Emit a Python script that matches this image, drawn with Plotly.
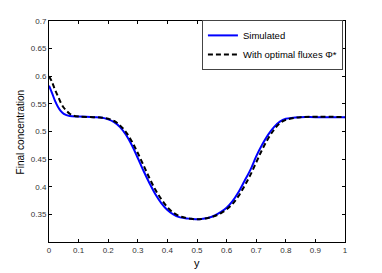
import plotly.graph_objects as go

x_sim = [0, 0.01, 0.02, 0.03, 0.04, 0.05, 0.07, 0.1, 0.15, 0.18, 0.2, 0.22, 0.24, 0.26, 0.28, 0.30,
         0.32, 0.34, 0.36, 0.38, 0.40, 0.42, 0.44, 0.46, 0.48, 0.5, 0.52, 0.54, 0.56, 0.58, 0.60,
         0.62, 0.64, 0.66, 0.68, 0.70, 0.72, 0.74, 0.76, 0.78, 0.80, 0.85, 0.9, 1.0]
simulated = [0.583, 0.570, 0.556, 0.545, 0.537, 0.532, 0.528, 0.527, 0.526, 0.525, 0.522, 0.517,
             0.508, 0.494, 0.475, 0.452, 0.428, 0.406, 0.386, 0.370, 0.358, 0.350, 0.345, 0.343,
             0.342, 0.341, 0.342, 0.344, 0.348, 0.354, 0.362, 0.374, 0.390, 0.410, 0.430, 0.455,
             0.476, 0.494, 0.508, 0.518, 0.523, 0.526, 0.526, 0.526]

x_opt = [0, 0.01, 0.02, 0.03, 0.04, 0.05, 0.06, 0.07, 0.08, 0.1, 0.15, 0.18, 0.2, 0.22, 0.24, 0.26,
         0.28, 0.30, 0.32, 0.34, 0.36, 0.38, 0.40, 0.42, 0.44, 0.46, 0.48, 0.5, 0.52, 0.54, 0.56,
         0.58, 0.60, 0.62, 0.64, 0.66, 0.68, 0.70, 0.72, 0.74, 0.76, 0.78, 0.80, 0.85, 1.0]
optimal = [0.600, 0.590, 0.576, 0.564, 0.552, 0.543, 0.537, 0.532, 0.529, 0.527, 0.526, 0.525,
           0.523, 0.519, 0.511, 0.499, 0.482, 0.461, 0.438, 0.415, 0.394, 0.377, 0.363, 0.353,
           0.347, 0.344, 0.342, 0.341, 0.342, 0.344, 0.347, 0.352, 0.359, 0.369, 0.383, 0.401,
           0.421, 0.444, 0.467, 0.487, 0.503, 0.515, 0.521, 0.526, 0.526]

x_ticks = [0, 0.1, 0.2, 0.3, 0.4, 0.5, 0.6, 0.7, 0.8, 0.9, 1]
x_ticktext = ["0", "0.1", "0.2", "0.3", "0.4", "0.5", "0.6", "0.7", "0.8", "0.9", "1"]
y_ticks = [0.35, 0.4, 0.45, 0.5, 0.55, 0.6, 0.65, 0.7]
y_ticktext = ["0.35", "0.4", "0.45", "0.5", "0.55", "0.6", "0.65", "0.7"]

fig = go.Figure()
fig.add_trace(go.Scatter(x=x_sim, y=simulated, mode="lines", name="Simulated",
                         line=dict(color="#0000ff", width=2, shape="spline")))
fig.add_trace(go.Scatter(x=x_opt, y=optimal, mode="lines", name="With optimal fluxes \u03a6*",
                         line=dict(color="black", width=2, dash="5px,3px", shape="spline")))

axis_common = dict(showline=True, linecolor="black", linewidth=1, mirror="ticks",
                   ticks="inside", ticklen=3, tickcolor="black", showgrid=False, zeroline=False,
                   automargin=False,
                   tickfont=dict(family="Liberation Sans, Arial", size=8, color="#333333"))

# the page body adds an 8px offset, so margins are compensated
fig.update_layout(
    width=382, height=273,
    margin=dict(l=41, r=45, t=13, b=39),
    paper_bgcolor="white", plot_bgcolor="white",
    font=dict(family="Liberation Sans, Arial", color="black"),
    xaxis=dict(range=[0, 1], tickvals=x_ticks, ticktext=x_ticktext, **axis_common),
    yaxis=dict(range=[0.3, 0.7], tickvals=y_ticks, ticktext=y_ticktext, **axis_common),
    legend=dict(x=0.993, y=1.005, xanchor="right", yanchor="top", bgcolor="white",
                bordercolor="#444444", borderwidth=1, font=dict(size=9.5),
                tracegroupgap=0, itemwidth=30),
    showlegend=True,
    annotations=[
        dict(text="y", xref="paper", yref="paper", x=0.5, y=-0.095, xanchor="center",
             yanchor="middle", showarrow=False, font=dict(size=11)),
        dict(text="Final concentration", xref="paper", yref="paper", x=-0.095, y=0.5,
             xanchor="center", yanchor="middle", showarrow=False, textangle=-90,
             font=dict(size=10)),
    ],
)

fig.write_html("out.html")
